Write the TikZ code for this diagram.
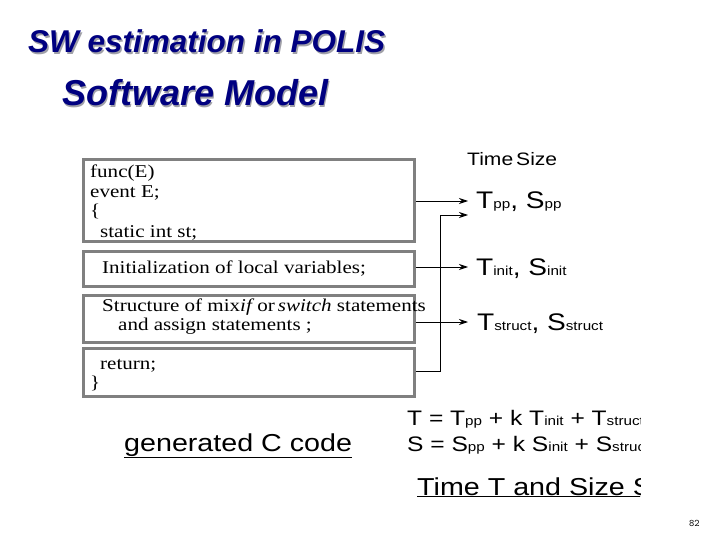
\documentclass[tikz,border=0pt]{standalone}
\usepackage{fontspec}
\setmainfont{Liberation Serif}
\setsansfont{Liberation Sans}
\newfontfamily\codigofont[FakeStretch=1.17]{Liberation Serif}
\newfontfamily\diagfont[FakeStretch=1.17]{Liberation Sans}
\newcommand{\chico}[1]{{\fontsize{13}{15}\selectfont #1}}
\usetikzlibrary{arrows.meta,positioning}
\definecolor{ctitulo}{HTML}{000080}
\definecolor{csombra}{HTML}{A0A0A8}
\definecolor{cborde}{HTML}{808080}
\tikzset{
  codigo/.style={draw=cborde,line width=3pt,minimum width=331pt,inner sep=0pt},
  linea/.style={anchor=base west,inner sep=0pt,font=\codigofont\fontsize{18}{20}\selectfont},
  tit/.style={anchor=base west,inner sep=0pt,font=\sffamily\bfseries\itshape,text=ctitulo},
  sombra/.style={tit,text=csombra},
  et/.style={anchor=base west,inner sep=0pt,font=\diagfont\fontsize{24}{26}\selectfont},
  rotulo/.style={anchor=base west,inner sep=0pt,font=\diagfont\fontsize{24.5}{27}\selectfont},
  formula/.style={anchor=base west,inner sep=0pt,font=\diagfont\fontsize{21}{23}\selectfont},
  flecha/.style={-{Stealth[length=9pt,width=6pt]},draw=black,line width=0.9pt},
}
\begin{document}
\begin{tikzpicture}[x=1pt,y=-1pt]
\useasboundingbox[fill=white] (0,0) rectangle (720,540);

% titulos
\node[sombra,font=\sffamily\bfseries\itshape\fontsize{31.5}{33}\selectfont] (tit1s) at (29.5,54.5) {SW estimation in POLIS};
\node[tit,font=\sffamily\bfseries\itshape\fontsize{31.5}{33}\selectfont] (tit1) at (28,53) {SW estimation in POLIS};
\node[sombra,font=\sffamily\bfseries\itshape\fontsize{36}{38}\selectfont] (tit2s) at (63.5,107.5) {Software Model};
\node[tit,font=\sffamily\bfseries\itshape\fontsize{36}{38}\selectfont] (tit2) at (62,106) {Software Model};

% bloques del codigo
\node[codigo,minimum height=82pt,anchor=north west] (cab)  at (82,158) {};
\node[codigo,minimum height=35pt,anchor=north west] (ini)  at (82,250) {};
\node[codigo,minimum height=47pt,anchor=north west] (est)  at (82,294) {};
\node[codigo,minimum height=48pt,anchor=north west] (ret)  at (82,347) {};

\node[linea] (l1) at (90,178) {func(E)};
\node[linea] (l2) at (90,198) {event E;};
\node[linea] (l3) at (90,217) {\{};
\node[linea] (l4) at (100,237) {static int st;};
\node[linea] (l5) at (102,273) {Initialization of local variables;};
\node[linea] (l6) at (102,311) {Structure of mix\textit{if}\,or\,\textit{switch} statements};
\node[linea] (l7) at (118,330) {and assign statements ;};
\node[linea] (l8) at (100,369) {return;};
\node[linea] (l9) at (90,388) {\}};

% tiempos y tamanos
\node[anchor=base west,inner sep=0pt,font=\diagfont\fontsize{18}{20}\selectfont] (ts) at (467,166) {Time\,Size};
\node[et] (tpp)  at (476,209) {T\chico{pp}, S\chico{pp}};
\node[et] (tini) at (476,275) {T\chico{init}, S\chico{init}};
\node[et] (tstr) at (477,330) {T\chico{struct}, S\chico{struct}};

\coordinate (codo) at (440,371);
\coordinate (punta) at (468,215);
\draw[flecha] (cab.east |- 0,201) -- (punta |- 0,201);
\draw[flecha] (ini.east |- 0,267) -- (punta |- 0,267);
\draw[flecha] (est.east |- 0,322) -- (punta |- 0,322);
\draw[flecha] (ret.east |- codo) -- (codo) |- (punta);

% formulas
\node[rotulo] (gen) at (124,451) {\underline{generated C code}};
\begin{scope}
\clip (400,395) rectangle (640,510);
\node[formula] (fT) at (407,425) {T = T\chico{pp} + k T\chico{init} + T\chico{struct}};
\node[formula] (fS) at (407,451) {S = S\chico{pp} + k S\chico{init} + S\chico{struct}};
\node[rotulo] (tys) at (417,495) {\underline{Time T and Size S}};
\end{scope}

\node[anchor=base west,inner sep=0pt,font=\ttfamily\fontsize{10}{12}\selectfont] (pag) at (689,526) {82};
\end{tikzpicture}
\end{document}
